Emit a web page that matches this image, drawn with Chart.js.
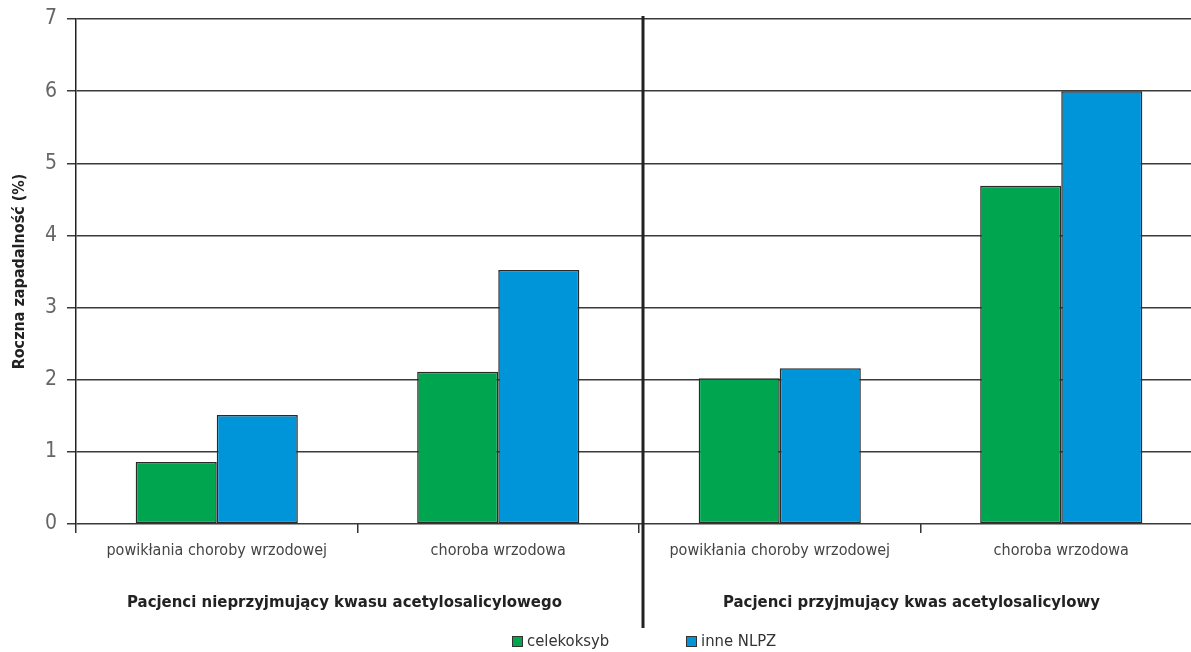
<!DOCTYPE html>
<html lang="pl">
<head>
<meta charset="utf-8">
<title>Roczna zapadalność</title>
<script src="https://cdn.jsdelivr.net/npm/chart.js@4.4.1/dist/chart.umd.min.js"></script>
<style>
  html, body { margin: 0; padding: 0; background: #fff; overflow: hidden; }
  #wrap { position: relative; width: 1204px; height: 652px; }
  #c { display: block; width: 1204px; height: 652px; }
</style>
</head>
<body>
<div id="wrap"><canvas id="c" width="1204" height="652"></canvas></div>
<script>
// Kategorie (oś X) i grupy pacjentów
const categories = [
  'powikłania choroby wrzodowej',
  'choroba wrzodowa',
  'powikłania choroby wrzodowej',
  'choroba wrzodowa'
];
const groupLabels = [
  'Pacjenci nieprzyjmujący kwasu acetylosalicylowego',
  'Pacjenci przyjmujący kwas acetylosalicylowy'
];
// Roczna zapadalność (%)
const celekoksyb = [0.86, 2.11, 2.02, 4.69];
const inneNLPZ = [1.51, 3.52, 2.16, 6.0];
const seriesNames = ['celekoksyb', 'inne NLPZ'];
const seriesColors = ['#00a54f', '#0095d9'];
const yTicks = [0, 1, 2, 3, 4, 5, 6, 7];

const FONT = "'Liberation Sans Narrow', 'DejaVu Sans Condensed', 'Noto Sans', sans-serif";

// Linia podziału, podpisy grup i legenda
const extras = {
  id: 'extras',
  afterDraw(chart) {
    const { ctx } = chart;
    const x = chart.scales.x;
    const area = chart.chartArea;
    ctx.save();

    // gruba pionowa linia między grupami
    const divX = (x.getPixelForValue(1) + x.getPixelForValue(2)) / 2 + 4;
    ctx.strokeStyle = '#222';
    ctx.lineWidth = 3;
    ctx.beginPath();
    ctx.moveTo(divX, area.top - 3);
    ctx.lineTo(divX, 628);
    ctx.stroke();

    // podpisy grup
    ctx.fillStyle = '#222';
    ctx.font = 'bold 16.6px ' + FONT;
    ctx.textAlign = 'center';
    ctx.textBaseline = 'middle';
    groupLabels.forEach((t, i) => {
      const cx = (x.getPixelForValue(2 * i) + x.getPixelForValue(2 * i + 1)) / 2 - (i === 0 ? 13 : 9);
      ctx.fillText(t, cx, 603);
    });

    // legenda
    ctx.font = '16.5px ' + FONT;
    ctx.textAlign = 'left';
    const starts = [512, 686];
    chart.data.datasets.forEach((ds, i) => {
      const sx = starts[i];
      ctx.fillStyle = ds.backgroundColor;
      ctx.fillRect(sx, 636, 11, 11);
      ctx.strokeStyle = '#333';
      ctx.lineWidth = 1;
      ctx.strokeRect(sx + 0.5, 636.5, 10, 10);
      ctx.fillStyle = '#333';
      ctx.fillText(ds.label, sx + 15, 642);
    });
    ctx.restore();
  }
};

new Chart(document.getElementById('c'), {
  type: 'bar',
  data: {
    labels: categories,
    datasets: [
      { label: seriesNames[0], data: celekoksyb, backgroundColor: seriesColors[0] },
      { label: seriesNames[1], data: inneNLPZ, backgroundColor: seriesColors[1] }
    ]
  },
  options: {
    responsive: false,
    animation: false,
    devicePixelRatio: 1,
    layout: { padding: { top: 19, right: 2, bottom: 0, left: 0 } },
    datasets: {
      bar: {
        categoryPercentage: 0.576,
        barPercentage: 1,
        borderColor: '#2a2a2a',
        borderWidth: 1.5,
        borderSkipped: false
      }
    },
    plugins: {
      legend: { display: false },
      tooltip: { enabled: false }
    },
    scales: {
      x: {
        offset: true,
        grid: {
          offset: true,
          drawOnChartArea: false,
          drawTicks: true,
          tickLength: 9,
          color: '#333',
          lineWidth: 1.5
        },
        border: { display: false },
        ticks: {
          padding: 8,
          color: '#444',
          font: { family: FONT, size: 16 },
          maxRotation: 0,
          autoSkip: false
        },
        afterFit(s) { s.height = 128; s.paddingLeft = 0; s.paddingRight = 0; }
      },
      y: {
        min: 0,
        max: 7,
        afterBuildTicks(s) { s.ticks = yTicks.map(v => ({ value: v })); },
        grid: {
          color: '#3a3a3a',
          lineWidth: 1.5,
          tickLength: 9
        },
        border: { display: true, color: '#222', width: 1.5 },
        ticks: {
          padding: 10,
          color: '#666',
          font: { family: FONT, size: 21 }
        },
        title: {
          display: true,
          text: 'Roczna zapadalność (%)',
          color: '#222',
          font: { family: FONT, size: 16, weight: 'bold' },
          padding: { top: 10, bottom: 0 }
        },
        afterFit(s) { s.width = 76; s.paddingTop = 0; s.paddingBottom = 0; }
      }
    }
  },
  plugins: [extras]
});
</script>
</body>
</html>
